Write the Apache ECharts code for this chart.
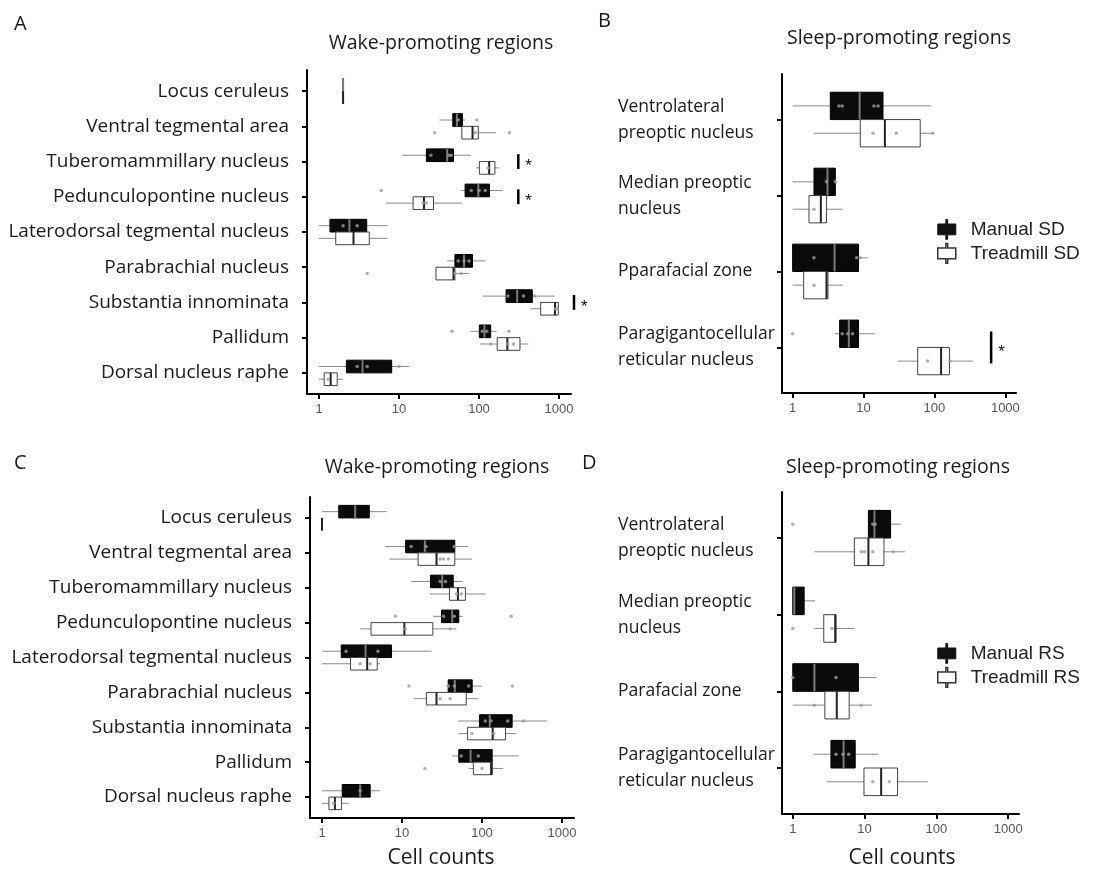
<!DOCTYPE html>
<html>
<head>
<meta charset="utf-8">
<script src="https://cdn.jsdelivr.net/npm/echarts@6/dist/echarts.min.js"></script>
<style>
html, body { margin: 0; padding: 0; background: #fff; }
#main { width: 1097px; height: 872px; }
</style>
</head>
<body>
<div id="main"></div>
<script>
/******************************** regions ********************************/
var wakeRegions = ['Locus ceruleus', 'Ventral tegmental area', 'Tuberomammillary nucleus', 'Pedunculopontine nucleus',
    'Laterodorsal tegmental nucleus', 'Parabrachial nucleus', 'Substantia innominata', 'Pallidum', 'Dorsal nucleus raphe'];
var sleepRegionsSD = ['Ventrolateral\npreoptic nucleus', 'Median preoptic\nnucleus', 'Pparafacial zone', 'Paragigantocellular\nreticular nucleus'];
var sleepRegionsRS = ['Ventrolateral\npreoptic nucleus', 'Median preoptic\nnucleus', 'Parafacial zone', 'Paragigantocellular\nreticular nucleus'];
var tickValues = [1, 10, 100, 1000];

/************** boxes: [min, Q1, median, Q3, max] per region **************/
// A - wake, SD
var wakeManualSD = [[2, 2, 2, 2, 2], [32, 47, 53, 62, 67], [11, 22, 40, 48, 79], [59, 67, 98, 135, 200],
    [1, 1.37, 2.4, 3.95, 7.2], [40, 50, 65, 83, 121], [111, 218, 300, 464, 890], [79, 101, 117, 140, 166], [1, 2.2, 3.5, 8.1, 13.3]];
var wakeTreadmillSD = [[2, 2, 2, 2, 2], [61, 61, 83, 98, 163], [92, 101, 134, 158, 179], [6.9, 15, 20.5, 27, 62],
    [1, 1.62, 2.7, 4.25, 7.2], [29, 29, 48, 50, 75], [434, 590, 890, 980, 1000], [103, 169, 226, 325, 413], [1, 1.16, 1.4, 1.69, 2.0]];
// B - sleep, SD
var sleepManualSD = [[1, 3.4, 8.8, 18.8, 90], [1, 2.0, 3.1, 4.0, 4.0], [1, 1, 3.9, 8.5, 11.5], [3.9, 4.6, 6.2, 8.5, 14.6]];
var sleepTreadmillSD = [[2, 9, 20, 63, 95], [1, 1.7, 2.5, 3.0, 5.1], [1, 1.43, 3.0, 3.15, 5.1], [30, 58, 124, 163, 347]];
// C - wake, RS
var wakeManualRS = [[1, 1.62, 2.6, 3.9, 6.4], [6.1, 11.1, 19.3, 45.7, 67], [13.1, 22.7, 31.8, 43.7, 57.5], [24.5, 31.2, 42.4, 51.3, 57.5],
    [1, 1.74, 3.5, 7.4, 23.4], [35.7, 37.8, 45.7, 75.4, 100], [50, 93, 125, 238, 653], [42.4, 51.3, 72, 134, 288], [1, 1.79, 3.0, 4.0, 5.3]];
var wakeTreadmillRS = [[1, 1, 1, 1, 1], [7.0, 15.9, 27, 45.7, 75], [22.3, 39.2, 50, 62, 110], [3.0, 4.1, 10.7, 24.3, 48],
    [1, 2.27, 3.67, 4.9, 5.3], [14, 20.2, 27, 63.5, 90], [51, 66, 136, 197, 270], [68, 78, 130, 135, 184], [1, 1.22, 1.45, 1.75, 2.16]];
// D - sleep, RS
var sleepManualRS = [[11.3, 11.3, 13.7, 23, 32], [1, 1, 1.05, 1.44, 2.04], [1, 1, 2.0, 8.2, 14.7], [1.94, 3.4, 5.1, 7.4, 15.6]];
var sleepTreadmillRS = [[2.0, 7.2, 11.3, 18.6, 36.5], [2.0, 2.7, 3.9, 4.0, 7.2], [1, 2.8, 4.1, 6.1, 12.6], [3.0, 9.8, 17, 28.8, 75.5]];

/******************** single animals: [value, region] ********************/
var wakeManualSDDots = [[94, 1], [55, 1], [25, 2], [42, 2], [45, 2], [6, 3], [80, 3], [100, 3], [120, 3], [2, 4], [3, 4],
    [55, 5], [65, 5], [75, 5], [230, 6], [360, 6], [500, 6], [46, 7], [110, 7], [125, 7], [237, 7], [3, 8], [4, 8], [10, 8]];
var wakeTreadmillSDDots = [[28, 1], [90, 1], [240, 1], [130, 2], [20, 3], [22, 3], [4, 5], [50, 5], [60, 5],
    [900, 6], [950, 6], [140, 7], [230, 7], [270, 7], [1.3, 8]];
var sleepManualSDDots = [[4.5, 0], [5, 0], [14, 0], [16, 0], [3, 1], [4, 1], [2, 2], [8, 2], [9, 2], [1, 3], [5, 3], [6, 3], [7, 3]];
var sleepTreadmillSDDots = [[13.6, 0], [29, 0], [95, 0], [2, 1], [2, 2], [80, 3], [165, 3]];
var wakeManualRSDots = [[13, 1], [20, 1], [45, 1], [30, 2], [35, 2], [8.3, 3], [33, 3], [45, 3], [232, 3], [2, 4], [5, 4],
    [12.2, 5], [38, 5], [45, 5], [68, 5], [240, 5], [110, 6], [130, 6], [210, 6], [330, 6], [55, 7], [90, 7], [3, 8]];
var wakeTreadmillRSDots = [[30, 1], [33, 1], [38, 1], [48, 2], [55, 2], [11, 3], [40, 3], [3, 4], [4, 4], [30, 5], [40, 5],
    [75, 6], [140, 6], [19.3, 7], [100, 7], [1.4, 8]];
var sleepManualRSDots = [[1, 0], [13, 0], [14, 0], [1, 2], [4, 2], [4, 3], [5, 3], [6, 3]];
var sleepTreadmillRSDots = [[9, 0], [10, 0], [13, 0], [25, 0], [1, 1], [3.5, 1], [2, 2], [9, 2], [13, 3], [22, 3]];

/******************** significance bars: [x, region] ********************/
var wakeSDSig = [[310, 2], [310, 3], [1540, 6]];
var sleepSDSig = [[630, 3]];

/******************************** layout ********************************/
var labelFont = '"Open Sans", "DejaVu Sans", sans-serif';

function boxItem(side, fill, edge, mid) {
    return function (params, api) {
        var idx = api.value(0);
        var band = api.size([0, 1], [1, idx])[1];
        var h = band * 0.36;
        var yc = api.coord([1, idx])[1];
        var top = side < 0 ? yc - h : yc;
        var cy = top + h / 2;
        var x = [1, 2, 3, 4, 5].map(function (d) { return api.coord([api.value(d), idx])[0]; });
        return {
            type: 'group',
            children: [
                {type: 'line', shape: {x1: x[0], y1: cy, x2: x[1], y2: cy}, style: {stroke: '#8a8a8a', lineWidth: 1}},
                {type: 'line', shape: {x1: x[3], y1: cy, x2: x[4], y2: cy}, style: {stroke: '#8a8a8a', lineWidth: 1}},
                {type: 'rect', shape: {x: x[1], y: top, width: x[3] - x[1], height: h}, style: {fill: fill, stroke: edge, lineWidth: 1}},
                {type: 'line', shape: {x1: x[2], y1: top, x2: x[2], y2: top + h}, style: {stroke: mid, lineWidth: 2}}
            ]
        };
    };
}

function sigItem(params, api) {
    var idx = api.value(1);
    var a = api.coord([api.value(0), idx - 0.21]);
    var b = api.coord([api.value(0), idx + 0.21]);
    return {
        type: 'group',
        children: [
            {type: 'line', shape: {x1: a[0], y1: a[1], x2: b[0], y2: b[1]}, style: {stroke: '#000', lineWidth: 2.5}},
            {type: 'text', x: a[0] + 7, y: (a[1] + b[1]) / 2 + 5, style: {text: '*', fill: '#111', font: '17px "Liberation Sans"', verticalAlign: 'middle'}}
        ]
    };
}

function boxSeries(name, gi, boxes, side, fill, edge, mid) {
    return {
        name: name,
        type: 'custom',
        xAxisIndex: gi,
        yAxisIndex: gi,
        itemStyle: {color: fill, borderColor: edge},
        encode: {x: [1, 2, 3, 4, 5], y: 0},
        renderItem: boxItem(side, fill, edge, mid),
        data: boxes.map(function (b, i) { return [i].concat(b); })
    };
}

function dotSeries(gi, dots, side) {
    return {
        type: 'scatter',
        xAxisIndex: gi,
        yAxisIndex: gi,
        silent: true,
        symbolSize: 3.5,
        itemStyle: {color: '#9c9c9c'},
        data: dots.map(function (d) { return [d[0], d[1] + side * 0.18]; }),
        z: 3
    };
}

function sigSeries(gi, sig) {
    return {
        type: 'custom',
        xAxisIndex: gi,
        yAxisIndex: gi,
        silent: true,
        encode: {x: 0, y: 1},
        renderItem: sigItem,
        data: sig
    };
}

function xAxisFor(gi) {
    return {
        type: 'log',
        logBase: 10,
        gridIndex: gi,
        min: 0.7079,
        max: 1412.5,
        axisLine: {show: true, onZero: false, lineStyle: {color: '#000', width: 2}},
        axisTick: {show: true, customValues: tickValues, length: 5, lineStyle: {color: '#000', width: 2}},
        axisLabel: {
            customValues: tickValues,
            formatter: function (v) { return String(Math.round(v)); },
            color: '#555',
            fontSize: 13,
            fontFamily: '"Liberation Sans", Arial',
            margin: 9
        },
        minorTick: {show: false},
        splitLine: {show: false}
    };
}

function yAxisFor(gi, regions, leftAligned, margin, size) {
    var idx = regions.map(function (r, i) { return i; });
    return {
        type: 'value',
        gridIndex: gi,
        inverse: true,
        min: -0.6,
        max: regions.length - 1 + 0.6,
        axisLine: {show: true, onZero: false, lineStyle: {color: '#000', width: 2}},
        axisTick: {show: true, customValues: idx, length: 5, lineStyle: {color: '#000', width: 2}},
        axisLabel: {
            customValues: idx,
            formatter: function (v) { return regions[Math.round(v)]; },
            color: '#1a1a1a',
            fontSize: size,
            fontFamily: labelFont,
            align: leftAligned ? 'left' : 'right',
            lineHeight: 26,
            margin: margin
        },
        splitLine: {show: false}
    };
}

var legendIcon = 'path://M9,0H11V5H20V17H11V22H9V17H0V5H9Z';

function legendFor(names, top) {
    return {
        orient: 'vertical',
        left: 932,
        top: top,
        itemWidth: 18,
        itemHeight: 21,
        itemGap: 3,
        selectedMode: false,
        textStyle: {fontSize: 19, fontFamily: '"Liberation Sans", Arial', color: '#222', padding: [0, 0, 0, 10]},
        data: [
            {name: names[0], icon: legendIcon, itemStyle: {color: '#111', borderColor: '#111', borderWidth: 1}},
            {name: names[1], icon: legendIcon, itemStyle: {color: '#fff', borderColor: '#333', borderWidth: 1.5}}
        ]
    };
}

function textEl(text, x, y, size, align) {
    return {
        type: 'text',
        x: x,
        y: y,
        style: {text: text, fill: '#1a1a1a', font: size + 'px ' + labelFont, align: align || 'center', verticalAlign: 'middle'}
    };
}

var chart = echarts.init(document.getElementById('main'));
var option = {
    animation: false,
    backgroundColor: '#fff',
    grid: [
        {left: 307, top: 70, width: 264, height: 324, outerBoundsMode: 'none'},
        {left: 782, top: 74, width: 234, height: 319, outerBoundsMode: 'none'},
        {left: 310, top: 497, width: 264, height: 321, outerBoundsMode: 'none'},
        {left: 782, top: 492, width: 237, height: 322, outerBoundsMode: 'none'}
    ],
    xAxis: [xAxisFor(0), xAxisFor(1), xAxisFor(2), xAxisFor(3)],
    yAxis: [
        yAxisFor(0, wakeRegions, false, 18, 19),
        yAxisFor(1, sleepRegionsSD, true, 164, 17.5),
        yAxisFor(2, wakeRegions, false, 18, 19),
        yAxisFor(3, sleepRegionsRS, true, 164, 17.5)
    ],
    legend: [
        legendFor(['Manual SD', 'Treadmill SD'], 214),
        legendFor(['Manual RS', 'Treadmill RS'], 638)
    ],
    graphic: [
        textEl('A', 14, 24, 20, 'left'),
        textEl('Wake-promoting regions', 441, 43, 19.5),
        textEl('B', 598, 21, 20, 'left'),
        textEl('Sleep-promoting regions', 899, 38, 19.5),
        textEl('C', 14, 463, 20, 'left'),
        textEl('Wake-promoting regions', 437, 467, 19.5),
        textEl('D', 582, 463, 20, 'left'),
        textEl('Sleep-promoting regions', 898, 467, 19.5),
        textEl('Cell counts', 441, 858, 21),
        textEl('Cell counts', 902, 858, 21)
    ],
    series: [
        boxSeries('Manual SD', 0, wakeManualSD, -1, '#0a0a0a', '#000', '#7a7a7a'),
        boxSeries('Treadmill SD', 0, wakeTreadmillSD, 1, '#fff', '#444', '#222'),
        dotSeries(0, wakeManualSDDots, -1),
        dotSeries(0, wakeTreadmillSDDots, 1),
        sigSeries(0, wakeSDSig),

        boxSeries('Manual SD', 1, sleepManualSD, -1, '#0a0a0a', '#000', '#7a7a7a'),
        boxSeries('Treadmill SD', 1, sleepTreadmillSD, 1, '#fff', '#444', '#222'),
        dotSeries(1, sleepManualSDDots, -1),
        dotSeries(1, sleepTreadmillSDDots, 1),
        sigSeries(1, sleepSDSig),

        boxSeries('Manual RS', 2, wakeManualRS, -1, '#0a0a0a', '#000', '#7a7a7a'),
        boxSeries('Treadmill RS', 2, wakeTreadmillRS, 1, '#fff', '#444', '#222'),
        dotSeries(2, wakeManualRSDots, -1),
        dotSeries(2, wakeTreadmillRSDots, 1),

        boxSeries('Manual RS', 3, sleepManualRS, -1, '#0a0a0a', '#000', '#7a7a7a'),
        boxSeries('Treadmill RS', 3, sleepTreadmillRS, 1, '#fff', '#444', '#222'),
        dotSeries(3, sleepManualRSDots, -1),
        dotSeries(3, sleepTreadmillRSDots, 1)
    ]
};
chart.setOption(option);
</script>
</body>
</html>
